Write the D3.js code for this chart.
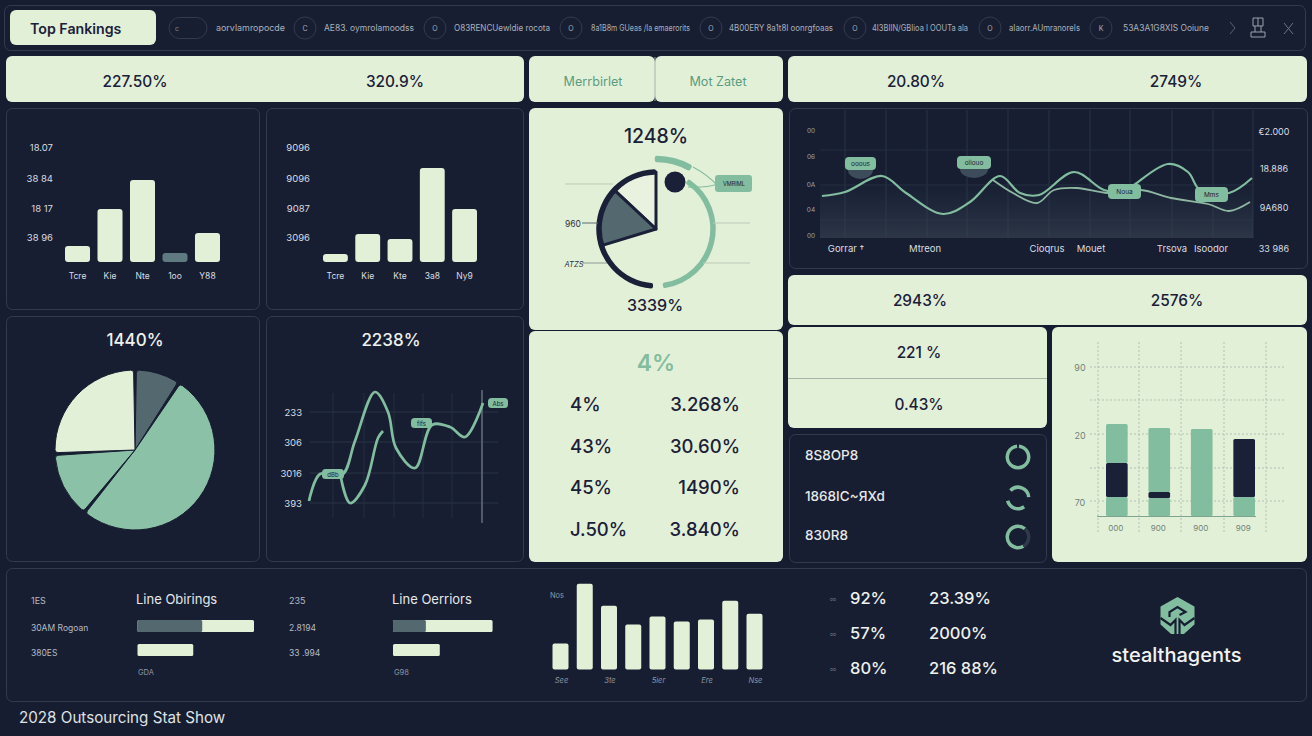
<!DOCTYPE html>
<html>
<head>
<meta charset="utf-8">
<script src="https://cdn.jsdelivr.net/npm/d3@7/dist/d3.min.js"></script>
<style>
html,body{margin:0;padding:0;background:#171d31;}
svg{display:block;}
text{font-family:Inter,"Noto Sans",sans-serif;}
.axis path,.axis line{display:none;}
</style>
</head>
<body>
<svg id="board" width="1312" height="736"></svg>
<script>
// Palette
const INK = "#171d31", CREAM = "#e3f0d8", MINT = "#83bd9f", PIE_MINT = "#8bc1a7", SLATE = "#54686f", EDGE = "#323a4e", TEXT = "#d9dde0", NAVY = "#1a2038";

// Header strip
const navLabels = ["aorvlamropocde","AE83. oymrolamoodss","O83RENCUewldie rocota","8a1B8m GUeas /Ia emaerorits","4B00ERY 8a1t8I oonrgfoaas","4I3BIIN/GBIioa I OOUTa ala","aIaorr.AUmranoreIs","53A3A1G8XIS Ooiune"];
const navSpans = [[216,285],[324,414],[454,550],[591,690],[729,833],[872,968],[1009,1080],[1123,1209]];
const navMarks = [305,435,571,711,855,990,1101];

// Top and middle summary tiles
const headerValues = ["227.50%","320.9%","20.80%","2749%"];
const headerTabs = ["Merrbirlet","Mot Zatet"];
const middleValues = ["2943%","2576%"];
const stackedValues = ["221 %","0.43%"];

// Column charts
const barsLeftCats = ["Tcre","Kie","Nte","1oo","Y88"];
const barsLeftValues = [16,53,82,9,29];
const barsLeftTicks = [25,54,84,115];
const barsLeftTickText = ["38 96","18 17","38 84","18.07"];
const barsRightCats = ["Tcre","Kie","Kte","3a8","Ny9"];
const barsRightValues = [8,28,23,94,53];
const barsRightTicks = [25,54,84,115];
const barsRightTickText = ["3096","9087","9096","9096"];

// Pie
const pieShares = [32,188,47,93];
const pieFills = [SLATE,PIE_MINT,PIE_MINT,CREAM];

// Two-tone curve panel
const curveTicks = [2,28,53,81,107];
const curveTickText = ["00","04","0A","06","00"];
const curveRightTicks = [-10,31,70,107];
const curveRightText = ["33 986","9A680","18.886","€2.000"];
const curveCats = ["Gorrar †","Mtreon","Cioqrus","Mouet","Trsova","Isoodor"];
const curveCatAt = [26,105,227,271,352,391];
const curveGrid = [25,66,107,147,188,229,270,310,352,393,433];
const trendAX = [2,25,62,86,123,150,180,200,219,254,284,304,314,348,368,380,409,432];
const trendAY = [42,46,62,45,24,36,62,45,43,66,48,46,53,74,66,48,45,60];
const trendBX = [173,193,217,234,257,288,321,351,388,409,430];
const trendBY = [58,45,35,48,50,45,48,40,34,27,36];
const curveTags = ["ooous","oiiouo","Noua","Mms"];
const curveTagX = [25,137,288,375];
const curveTagY = [81,82,54,51];

// Gauge (angles in degrees, clockwise from the top)
const gaugeDarkArc = [-177,0];
const gaugeMintArc = [33,173];
const gaugeTopArc = [-1,30];
const gaugeWedges = [[-47,0],[-107,-47]];
const gaugeWedgeFills = ["#e9f2de",SLATE];
const gaugeTitle = "1248%", gaugeFoot = "3339%";

// Stat table
const statHead = "4%";
const statLeft = ["4%","43%","45%","J.50%"];
const statRight = ["3.268%","30.60%","1490%","3.840%"];

// Line panel
const sparkTicks = [20,50,81,111];
const sparkTickText = ["393","3016","306","233"];
const sparkMainX = [1,12,34,47,67,80,88,107,124,142,157,175];
const sparkMainY = [22,49,48,82,131,111,75,55,98,96,86,120];
const sparkLowX = [33,42,57,70,75];
const sparkLowY = [45,20,38,85,92];
const sparkGridX = [25,56,86,115,144,174];

// Stacked columns
const stackCats = ["000","900","900","909"];
const stackLow = [19,18,87,19];
const stackDark = [34,6,0,58];
const stackHigh = [39,64,0,0];
const stackTicks = [15,82,150];
const stackTickText = ["70","20","90"];
const stackGridY = [15,48,82,116,149];

// Progress rows
const ringLabels = ["8S8OP8","1868IC~ЯXd","830R8"];
const ringArcs = [[[5,355]],[[-45,85],[145,255]],[[150,400]]];
const ringTail = [40,150];

// Bottom strip
const lineBlockA = {title:"Line Obirings",labels:["1ES","30AM Rogoan","380ES"],foot:"GDA"};
const lineBlockB = {title:"Line Oerriors",labels:["235","2.8194","33 .994"],foot:"G98"};
const meterA = [[65,117],[56,0]];
const meterB = [[33,100],[47,0]];
const miniCats = ["See","3te","5ier","Ere","Nse"];
const miniValues = [26,86,64,45,53,48,50,69,56];
const bottomLeft = ["92%","57%","80%"];
const bottomRight = ["23.39%","2000%","216 88%"];
const brandName = "stealthagents";
const footerTitle = "2028 Outsourcing Stat Show";

const svg = d3.select("#board");

function panel(x,y,w,h,kind,r=6){
  return svg.append("rect").attr("x",x).attr("y",y).attr("width",w).attr("height",h).attr("rx",r)
    .attr("fill",kind==="light"?CREAM:"#171e32")
    .attr("stroke",kind==="light"?"none":EDGE).attr("stroke-width",1);
}
function label(x,y,str,o={}){
  return svg.append("text").attr("x",x).attr("y",y).text(str)
    .attr("text-anchor",o.anchor||"middle").attr("dominant-baseline","central")
    .attr("font-size",o.size||10).attr("font-weight",o.weight||400)
    .attr("font-style",o.italic?"italic":null)
    .attr("fill",o.fill||TEXT);
}

// Panels
panel(4.5,5.5,1301,45,"dark");
panel(10,10,146,35,"light",6);
[[6,56,518,46],[529,56,126,46],[655,56,128,46],[788,56,519,46],[529,108,254,222],[529,331,254,231],[788,275,519,50],[788,327,259,101],[1052,327,255,235]]
  .forEach(p=>panel(p[0],p[1],p[2],p[3],"light"));
[[6.5,108.5,253,201],[266.5,108.5,257,201],[6.5,316.5,253,245],[266.5,316.5,257,245],[789.5,108.5,518,160],[789.5,434.5,257,128],[6.5,568.5,1300,133]]
  .forEach(p=>panel(p[0],p[1],p[2],p[3],"dark"));
svg.append("line").attr("x1",788).attr("x2",1047).attr("y1",378.5).attr("y2",378.5).attr("stroke","#a6b5a8");
svg.append("line").attr("x1",655).attr("x2",655).attr("y1",57).attr("y2",101).attr("stroke","#a6b5a8");

// Header strip content
label(30,28,"Top Fankings",{anchor:"start",size:14.2,weight:600,fill:NAVY});
svg.append("rect").attr("x",169).attr("y",17.5).attr("width",38).attr("height",21).attr("rx",10.5).attr("fill","none").attr("stroke",EDGE);
label(177,28,"c",{size:7,fill:"#7c8494"});
svg.selectAll(".navMark").data(navMarks).join("circle").attr("cx",d=>d).attr("cy",28).attr("r",11).attr("fill","none").attr("stroke",EDGE);
navMarks.forEach((d,i)=>label(d,28,i===0?"C":i===6?"K":"O",{size:7,fill:"#a9afb9"}));
navLabels.forEach((t,i)=>label(navSpans[i][0],28,t,{anchor:"start",size:8.5,fill:"#aab1ba"})
  .attr("textLength",navSpans[i][1]-navSpans[i][0]).attr("lengthAdjust","spacingAndGlyphs"));
svg.append("path").attr("d","M1230 22l5 6-5 6").attr("fill","none").attr("stroke","#5a6374");
svg.append("path").attr("d","M1253 18h10v8h-10zM1258 18v8M1251 32h14v5h-14zM1255 26v6M1261 26v6").attr("fill","none").attr("stroke","#9aa2ad");
svg.append("path").attr("d","M1284 23l9 11M1293 23l-9 11").attr("fill","none").attr("stroke","#6d7583");

// Summary tiles
[135,395,916,1176].forEach((x,i)=>label(x,81,headerValues[i],{size:15.4,fill:NAVY,weight:500}));
[593,718].forEach((x,i)=>label(x,81,headerTabs[i],{size:12.6,fill:"#5a9c80"}));
[920,1177].forEach((x,i)=>label(x,300,middleValues[i],{size:15.4,fill:NAVY,weight:500}));
[352,404].forEach((y,i)=>label(919,y,stackedValues[i],{size:15.4,fill:NAVY,weight:500}));

// Column chart with a tick label column on the left
function columns(cats,vals,ticks,tickText,x0,x1,tickX,fillFor){
  const x = d3.scaleBand().domain(cats).range([x0,x1]).paddingInner(0.23);
  const y = d3.scaleLinear().domain([0,115]).range([262,147]);
  svg.append("g").selectAll("rect").data(vals).join("rect")
    .attr("x",(d,i)=>x(cats[i])).attr("width",x.bandwidth())
    .attr("y",d=>y(d)).attr("height",d=>y(0)-y(d)).attr("rx",3)
    .attr("fill",(d,i)=>fillFor(i));
  svg.append("g").attr("class","axis").attr("transform",`translate(${tickX},0)`)
    .call(d3.axisLeft(y).tickValues(ticks).tickSize(0).tickFormat((d,i)=>tickText[i]))
    .selectAll("text").attr("font-size",9.5).attr("fill",TEXT).attr("font-family","Inter");
  svg.append("g").attr("class","axis").attr("transform","translate(0,270)")
    .call(d3.axisBottom(x).tickSize(0))
    .selectAll("text").attr("font-size",8.5).attr("fill",TEXT).attr("font-family","Inter");
}
columns(barsLeftCats,barsLeftValues,barsLeftTicks,barsLeftTickText,65,220,56,i=>i===3?"#5f7a80":CREAM);
columns(barsRightCats,barsRightValues,barsRightTicks,barsRightTickText,323,477,313,()=>CREAM);

// Pie
label(135,340,"1440%",{size:17,fill:"#eef1ee",weight:500});
const pieArc = d3.arc().innerRadius(0).outerRadius(80).cornerRadius(3);
svg.append("g").attr("transform","translate(135,450)").selectAll("path")
  .data(d3.pie().sort(null).padAngle(0.035)(pieShares)).join("path")
  .attr("d",pieArc).attr("fill",(d,i)=>pieFills[i]).attr("stroke",INK).attr("stroke-width",1);

// Line panel
label(391,340,"2238%",{size:17,fill:"#eef1ee",weight:500});
const sparkX = d3.scaleLinear().domain([0,175]).range([308,483]);
const sparkY = d3.scaleLinear().domain([0,131]).range([523,392]);
const sparkG = svg.append("g");
sparkG.selectAll(".h").data(sparkTicks).join("line").attr("x1",sparkX(2)).attr("x2",498)
  .attr("y1",d=>sparkY(d)).attr("y2",d=>sparkY(d)).attr("stroke","#2a3244");
sparkG.selectAll(".v").data(sparkGridX).join("line").attr("x1",d=>sparkX(d)).attr("x2",d=>sparkX(d))
  .attr("y1",393).attr("y2",518).attr("stroke","#242c3f");
sparkG.append("line").attr("x1",sparkX(174)).attr("x2",sparkX(174)).attr("y1",390).attr("y2",523).attr("stroke","#6f7886").attr("stroke-width",1.3);
svg.append("g").attr("class","axis").attr("transform","translate(305,0)")
  .call(d3.axisLeft(sparkY).tickValues(sparkTicks).tickSize(0).tickFormat((d,i)=>sparkTickText[i]))
  .selectAll("text").attr("font-size",9.5).attr("fill",TEXT).attr("font-family","Inter");
const sparkLine = d3.line().curve(d3.curveCatmullRom.alpha(0.5));
const sparkPts = (xs,ys)=>xs.map((x,i)=>[sparkX(x),sparkY(ys[i])]);
sparkG.append("path").attr("d",sparkLine(sparkPts(sparkMainX,sparkMainY))).attr("fill","none").attr("stroke",MINT).attr("stroke-width",2.7);
sparkG.append("path").attr("d",sparkLine(sparkPts(sparkLowX,sparkLowY))).attr("fill","none").attr("stroke",MINT).attr("stroke-width",2.7);
[[322,469,22,10,"dBb"],[411,418,21,10,"fIfs"],[488,398,20,10,"Abs"]].forEach(t=>{
  svg.append("rect").attr("x",t[0]).attr("y",t[1]).attr("width",t[2]).attr("height",t[3]).attr("rx",3.5).attr("fill",MINT);
  label(t[0]+t[2]/2,t[1]+t[3]/2,t[4],{size:6,fill:NAVY});
});

// Gauge
const deg = d3.scaleLinear().domain([0,360]).range([0,2*Math.PI]);
const gauge = svg.append("g").attr("transform","translate(656,229)");
[[565,613,184],[713,750,223],[703,750,263]].forEach(l=>svg.append("line").attr("x1",l[0]).attr("x2",l[1]).attr("y1",l[2]).attr("y2",l[2]).attr("stroke","#bcc9b9"));
[[582,598,223,"#5b6a6d"],[582,607,263,"#8a9a94"]].forEach(l=>svg.append("line").attr("x1",l[0]).attr("x2",l[1]).attr("y1",l[2]).attr("y2",l[2]).attr("stroke",l[3]));
const wedge = d3.arc().innerRadius(0).outerRadius(57);
gaugeWedges.forEach((w,i)=>gauge.append("path")
  .attr("d",wedge({startAngle:deg(w[0]),endAngle:deg(w[1])}))
  .attr("fill",gaugeWedgeFills[i]).attr("stroke",NAVY).attr("stroke-width",3).attr("stroke-linejoin","round"));
const ring = (r,w,a)=>d3.arc().innerRadius(r-w/2).outerRadius(r+w/2).cornerRadius(w/3)({startAngle:deg(a[0]),endAngle:deg(a[1])});
gauge.append("path").attr("d",ring(57,5.5,gaugeDarkArc)).attr("fill",NAVY);
gauge.append("path").attr("d",ring(57,5.5,gaugeMintArc)).attr("fill",MINT);
gauge.append("path").attr("d",ring(70,6.5,gaugeTopArc)).attr("fill",MINT);
svg.append("path").attr("d","M693 167 Q708 175 718 186 M688 187 Q705 188 718 184").attr("fill","none").attr("stroke",MINT).attr("stroke-width",1.2);
gauge.append("circle").attr("cx",19).attr("cy",-47).attr("r",10.5).attr("fill",NAVY);
svg.append("rect").attr("x",715).attr("y",175).attr("width",37).attr("height",17).attr("rx",3).attr("fill",MINT);
label(734,184,"VMRIML",{size:5.5,fill:NAVY});
label(656,136,gaugeTitle,{size:19.5,fill:NAVY,weight:500});
label(655,305,gaugeFoot,{size:16,fill:NAVY,weight:500});
label(573,224,"960",{size:8.5,fill:"#2a3244"});
label(574,264,"ATZS",{size:7.5,fill:"#2a3244",italic:true});

// Stat table
label(656,363,statHead,{size:23,fill:MINT,weight:600});
[404,446,487,529].forEach((y,i)=>{
  label(570,y,statLeft[i],{anchor:"start",size:18.5,fill:NAVY,weight:500});
  label(740,y,statRight[i],{anchor:"end",size:18.5,fill:NAVY,weight:500});
});

// Curve panel
const curveX = d3.scaleLinear().domain([0,433]).range([820,1253]);
const curveY = d3.scaleLinear().domain([0,128]).range([238,110]);
const defs = svg.append("defs");
const grad = defs.append("linearGradient").attr("id","curveFill").attr("x1",0).attr("x2",0).attr("y1",0).attr("y2",1);
grad.append("stop").attr("offset",0).attr("stop-color","#2f3a4d").attr("stop-opacity",0.05);
grad.append("stop").attr("offset",1).attr("stop-color","#35414f").attr("stop-opacity",0.7);
const curveG = svg.append("g");
curveG.selectAll(".v").data(curveGrid).join("line").attr("x1",d=>curveX(d)).attr("x2",d=>curveX(d)).attr("y1",110).attr("y2",238).attr("stroke","#2a3245");
[150,185,220].forEach(y=>curveG.append("line").attr("x1",820).attr("x2",1253).attr("y1",y).attr("y2",y).attr("stroke","#252d40"));
curveG.append("rect").attr("x",820).attr("y",184).attr("width",433).attr("height",54).attr("fill","url(#curveFill)");
const curvePath = d3.line().curve(d3.curveCatmullRom.alpha(0.5)).x(d=>curveX(d[0])).y(d=>curveY(d[1]));
curveG.append("path").attr("d",curvePath(trendBX.map((x,i)=>[x,trendBY[i]]))).attr("fill","none").attr("stroke","#8fb8a3").attr("stroke-width",1.8);
curveG.append("path").attr("d",curvePath(trendAX.map((x,i)=>[x,trendAY[i]]))).attr("fill","none").attr("stroke",MINT).attr("stroke-width",2.2);
curveTags.forEach((t,i)=>{
  const tx = curveX(curveTagX[i]), ty = curveY(curveTagY[i]), w = i===1?34:i===0?31:33, h = i<2?13:15;
  if(i<2) svg.append("path").attr("d",`M${tx+3} ${ty+h} a${w/2-3} 9 0 0 0 ${w-6} 0z`).attr("fill","#3d4c5a");
  svg.append("rect").attr("x",tx).attr("y",ty).attr("width",w).attr("height",h).attr("rx",4).attr("fill",MINT);
  label(tx+w/2,ty+h/2,t,{size:6.5,fill:NAVY});
});
curveTickText.forEach((t,i)=>label(811,curveY(curveTicks[i]),t,{size:6.5,fill:"#9aa2ad"}));
curveRightText.forEach((t,i)=>label(1274,curveY(curveRightTicks[i]),t,{size:9,fill:TEXT}));
curveCats.forEach((t,i)=>label(curveX(curveCatAt[i]),248,t,{size:9.5,fill:TEXT}));

// Stacked columns
const stackX = d3.scaleBand().domain(d3.range(stackCats.length)).range([1106,1255]).paddingInner(0.49);
const stackY = d3.scaleLinear().domain([0,174]).range([516,342]);
const stackRows = stackCats.map((c,i)=>({low:stackLow[i],dark:stackDark[i],high:stackHigh[i]}));
const stackSeries = d3.stack().keys(["low","dark","high"])(stackRows);
const stackFill = {low:MINT,dark:NAVY,high:MINT};
const gridStroke = "#b2c1b5";
[1098,1139,1181,1224,1266].forEach(x=>svg.append("line").attr("x1",x).attr("x2",x).attr("y1",342).attr("y2",533).attr("stroke",gridStroke).attr("stroke-dasharray","2 2"));
stackGridY.forEach(v=>svg.append("line").attr("x1",1090).attr("x2",1284).attr("y1",stackY(v)).attr("y2",stackY(v)).attr("stroke",gridStroke).attr("stroke-dasharray","2 2"));
stackSeries.forEach(s=>svg.append("g").selectAll("rect").data(s).join("rect")
  .attr("x",(d,i)=>stackX(i)).attr("width",stackX.bandwidth())
  .attr("y",d=>stackY(d[1])).attr("height",d=>stackY(d[0])-stackY(d[1]))
  .attr("rx",1.5).attr("fill",stackFill[s.key]));
svg.append("line").attr("x1",1097).attr("x2",1256).attr("y1",516.5).attr("y2",516.5).attr("stroke","#7ba58f");
stackCats.forEach((c,i)=>label(stackX(i)+stackX.bandwidth()/2-1,528,c,{size:8,fill:"#6f8279"}));
stackTickText.forEach((t,i)=>label(1080,stackY(stackTicks[i])+1,t,{size:9,fill:"#6f8279"}));

// Progress rows
[455,496,535].forEach((y,i)=>{
  label(805,y,ringLabels[i],{anchor:"start",size:13.5,fill:"#e6e9e8",weight:500});
  ringArcs[i].forEach(a=>svg.append("path").attr("transform",`translate(1018,${y+2})`)
    .attr("d",d3.arc().innerRadius(9).outerRadius(12.5)({startAngle:deg(a[0]),endAngle:deg(a[1])})).attr("fill",MINT));
});
svg.append("path").attr("transform","translate(1018,537)").attr("d",d3.arc().innerRadius(9).outerRadius(12.5)({startAngle:deg(ringTail[0]),endAngle:deg(ringTail[1])})).attr("fill","#2f3b49");

// Meter blocks
function meterBlock(block,meter,x0,labelX,fx){
  label(x0,599,block.title,{anchor:"start",size:13,fill:"#e6e9e8"});
  [600,628,653].forEach((y,i)=>label(labelX,y,block.labels[i],{anchor:"start",size:i===0?9:8.5,fill:"#b5bbc3"}));
  label(x0+2,672,block.foot,{anchor:"start",size:7.5,fill:"#8e96a2"});
  const m = d3.scaleLinear().domain([0,117]).range([fx,fx+116.5]);
  svg.append("rect").attr("x",m(0)).attr("y",620).attr("width",m(meter[0][1])-m(0)).attr("height",12).attr("rx",1.5).attr("fill",CREAM);
  svg.append("rect").attr("x",m(0)).attr("y",620).attr("width",m(meter[0][0])-m(0)).attr("height",12).attr("rx",1.5).attr("fill",SLATE);
  svg.append("rect").attr("x",m(0)).attr("y",644).attr("width",m(meter[1][0])-m(0)).attr("height",12).attr("rx",1.5).attr("fill",CREAM);
}
meterBlock(lineBlockA,meterA,136,31,137.5);
meterBlock(lineBlockB,meterB,392,289,393);

// Thin column strip
const miniX = d3.scaleBand().domain(d3.range(miniValues.length)).range([552.5,762.5]).paddingInner(0.34);
const miniY = d3.scaleLinear().domain([0,86]).range([669.5,583.7]);
svg.append("g").selectAll("rect").data(miniValues).join("rect")
  .attr("x",(d,i)=>miniX(i)).attr("width",miniX.bandwidth())
  .attr("y",d=>miniY(d)).attr("height",d=>miniY(0)-miniY(d)).attr("rx",2).attr("fill",CREAM);
miniCats.forEach((c,i)=>label(miniX(i*2)+miniX.bandwidth()/2+1,680,c,{size:7.5,fill:"#8e96a2",italic:true}));
label(557,595,"Nos",{size:7.5,fill:"#8e96a2"});

// Bottom figures
[598,633,668].forEach((y,i)=>{
  label(833,y+1,"oo",{size:5,fill:"#7c8494"});
  label(850,y,bottomLeft[i],{anchor:"start",size:16.5,fill:"#eef1ee",weight:500});
  label(929,y,bottomRight[i],{anchor:"start",size:16.5,fill:"#eef1ee",weight:500});
});

// Brand mark
const brand = svg.append("g").attr("transform","translate(1177.5,616)");
brand.append("path").attr("d","M0 -18L16 -9V8L6 17H-6L-16 8V-9Z").attr("fill",MINT).attr("stroke",MINT).attr("stroke-linejoin","round").attr("stroke-width",2);
brand.append("path").attr("d","M-8 1L-8 -4L0 -9L8 -4L2 -1M-17 2L-7 9L-2 4V18M17 2L7 9L2 4V18").attr("fill","none").attr("stroke","#171e32").attr("stroke-width",2.2);
label(1176.5,655,brandName,{size:20,fill:"#f1f3f2",weight:500});

// Footer
label(19,717,footerTitle,{anchor:"start",size:15.2,fill:"#dfe2e3"});
</script>
</body>
</html>
